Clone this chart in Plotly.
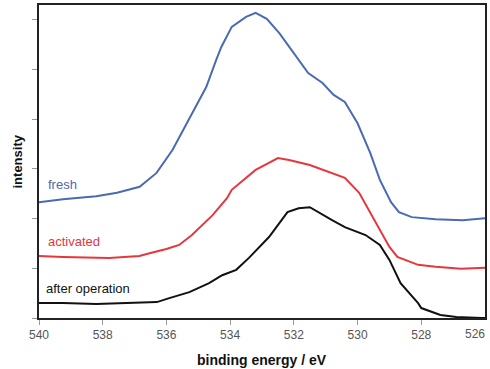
import plotly.graph_objects as go

fresh_x = [540.0, 539.25, 538.2, 537.55, 536.84, 536.31, 535.81, 535.28, 534.75, 534.44,
           534.28, 533.95, 533.5, 533.2, 532.85, 532.45, 532.0, 531.55, 531.1, 530.75, 530.4, 530.0,
           529.6, 529.3, 528.95, 528.7, 528.3, 527.55, 526.7, 526.0]
fresh_y = [2.33, 2.39, 2.45, 2.52, 2.64, 2.92, 3.38, 4.02, 4.65, 5.19,
           5.45, 5.86, 6.06, 6.14, 6.02, 5.73, 5.33, 4.93, 4.73, 4.49, 4.35, 3.92,
           3.32, 2.78, 2.33, 2.13, 2.03, 1.99, 1.97, 2.01]

activated_x = [540.0, 539.25, 537.8, 536.85, 536.5, 536.0, 535.6, 535.2, 534.55, 534.1, 533.95,
               533.2, 532.5, 532.15, 531.5, 530.4, 529.95, 529.3, 529.0, 528.75, 528.1, 527.55,
               526.75, 526.0]
activated_y = [1.25, 1.23, 1.21, 1.25, 1.31, 1.39, 1.47, 1.67, 2.07, 2.41, 2.58,
               2.98, 3.22, 3.18, 3.08, 2.82, 2.52, 1.77, 1.43, 1.23, 1.07, 1.03,
               0.99, 1.01]

after_x = [540.0, 539.25, 538.2, 537.15, 536.3, 535.91, 535.28, 534.66, 534.25, 533.81, 533.41,
           532.78, 532.45, 532.2, 531.85, 531.5, 530.8, 530.4, 529.75,
           529.3, 529.0, 528.65, 528.1, 528.0, 527.4, 526.9, 526.1, 526.0]
after_y = [0.30, 0.30, 0.28, 0.30, 0.32, 0.40, 0.52, 0.70, 0.86, 0.97, 1.21,
           1.63, 1.91, 2.13, 2.21, 2.23, 1.97, 1.83, 1.67,
           1.47, 1.17, 0.70, 0.30, 0.20, 0.06, 0.02, 0.0, 0.0]

x_ticks = [540, 538, 536, 534, 532, 530, 528, 526]
y_ticks = [0, 1, 2, 3, 4, 5, 6]

BLUE = "#4a6ab3"
RED = "#e8363e"
BLACK = "#111111"
FONT = "Liberation Sans, Arial, sans-serif"

fig = go.Figure()
for xs, ys, c in [(fresh_x, fresh_y, BLUE), (activated_x, activated_y, RED), (after_x, after_y, BLACK)]:
    fig.add_trace(go.Scatter(x=xs, y=ys, mode="lines", line=dict(color=c, width=2), showlegend=False))

fig.update_layout(
    width=490, height=369,
    margin=dict(l=39, r=3, t=5, b=51),
    paper_bgcolor="white", plot_bgcolor="white",
    font=dict(family=FONT, size=12, color="#555"),
)
fig.update_xaxes(range=[540, 526], tickvals=x_ticks[:-1], ticktext=[str(v) for v in x_ticks[:-1]],
                 showgrid=False, zeroline=False, showline=True, linecolor="#222", linewidth=2,
                 mirror=True, ticks="outside", ticklen=5, tickcolor="#999", tickwidth=1,
                 tickfont=dict(size=12, color="#555"))
fig.update_yaxes(range=[0, 6.3], tickvals=y_ticks, showticklabels=False,
                 showgrid=False, zeroline=False, showline=True, linecolor="#222", linewidth=2,
                 mirror=True, ticks="outside", ticklen=5, tickcolor="#999", tickwidth=1)

# last tick label, kept inside the page
fig.add_annotation(text=str(x_ticks[-1]), x=x_ticks[-1], y=0, xref="x", yref="paper",
                   xanchor="right", yanchor="top", yshift=-7, xshift=2, showarrow=False,
                   font=dict(family=FONT, size=12, color="#555"))

fig.add_annotation(text="fresh", x=539.78, y=2.68, xref="x", yref="y", xanchor="left", yanchor="middle",
                   showarrow=False, font=dict(family=FONT, size=13, color=BLUE))
fig.add_annotation(text="activated", x=539.78, y=1.53, xref="x", yref="y", xanchor="left", yanchor="middle",
                   showarrow=False, font=dict(family=FONT, size=13, color=RED))
fig.add_annotation(text="after operation", x=539.84, y=0.60, xref="x", yref="y", xanchor="left", yanchor="middle",
                   showarrow=False, font=dict(family=FONT, size=13, color=BLACK))
fig.add_annotation(text="<b>binding energy / eV</b>", x=0.5, y=0, xref="paper", yref="paper",
                   xanchor="center", yanchor="middle", yshift=-42, showarrow=False,
                   font=dict(family=FONT, size=14, color="#111"))
fig.add_annotation(text="<b>intensity</b>", x=0, y=0.5, xref="paper", yref="paper", textangle=-90,
                   xanchor="center", yanchor="middle", xshift=-22, showarrow=False,
                   font=dict(family=FONT, size=13, color="#111"))

fig.write_html("out.html")
